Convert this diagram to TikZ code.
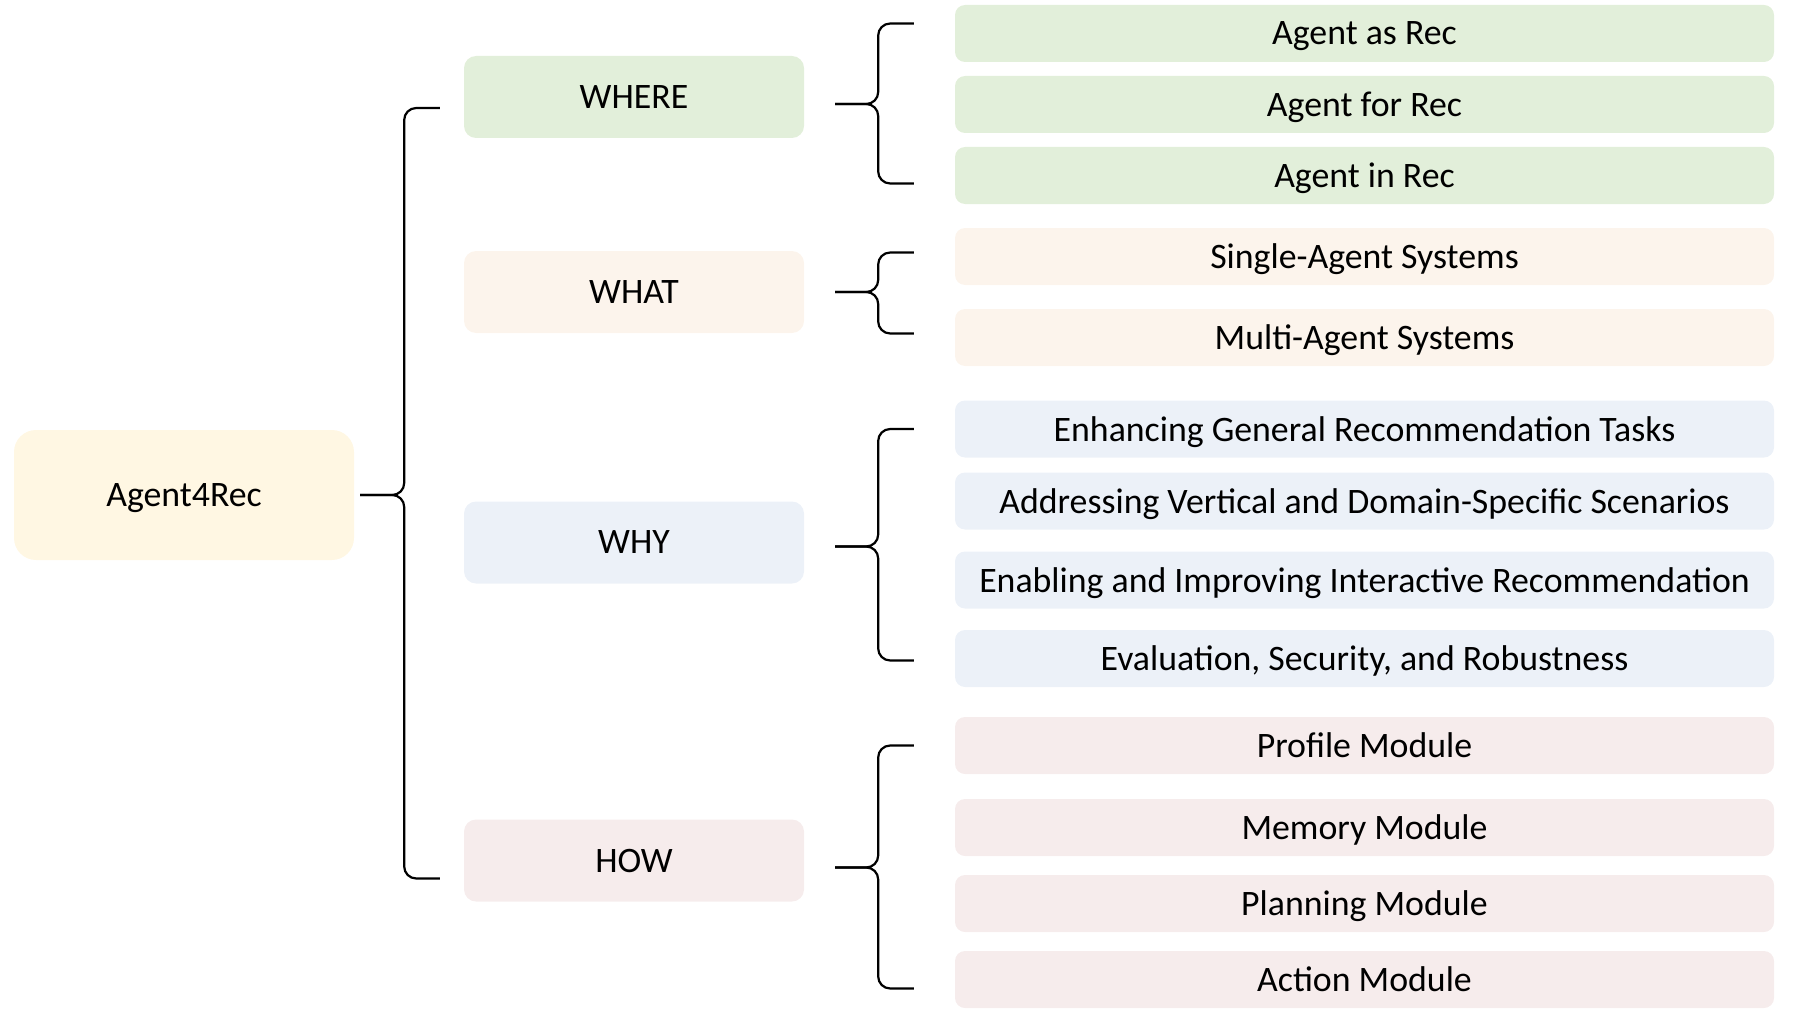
\documentclass[tikz,border=0pt]{standalone}
\usepackage{fontspec}
\setmainfont{Carlito}
\definecolor{recfill}{HTML}{FFF7E3}
\definecolor{wherefill}{HTML}{E2EFDA}
\definecolor{whatfill}{HTML}{FCF4EC}
\definecolor{whyfill}{HTML}{ECF1F8}
\definecolor{howfill}{HTML}{F6ECEC}
\begin{document}
\begin{tikzpicture}[x=1pt,y=-1pt,
    box/.style={rounded corners=10pt,inner sep=0pt,text depth=0pt,font=\fontsize{35.8}{42}\selectfont},
    rootbox/.style={box,rounded corners=22pt,minimum width=340pt,minimum height=130pt},
    midbox/.style={box,rounded corners=12pt,minimum width=340pt,minimum height=82pt},
    leafbox/.style={box,minimum width=819pt,minimum height=57pt},
    brace/.style={line width=2.2pt,rounded corners=12pt}]
      \useasboundingbox (0,0) rectangle (1802,1022);
      \node[rootbox,fill=recfill] (rec) at (184,495) {Agent4Rec};
      \node[midbox,fill=wherefill] (where) at (634,97) {WHERE};
      \node[midbox,fill=whatfill] (what) at (634,292) {WHAT};
      \node[midbox,fill=whyfill] (why) at (634,542.5) {WHY};
      \node[midbox,fill=howfill] (how) at (634,860.5) {HOW};
      \node[leafbox,fill=wherefill] (asrec) at (1364.5,33.5) {Agent as Rec};
      \node[leafbox,fill=wherefill] (forrec) at (1364.5,104.5) {Agent for Rec};
      \node[leafbox,fill=wherefill] (inrec) at (1364.5,175.5) {Agent in Rec};
      \node[leafbox,fill=whatfill] (single) at (1364.5,256.5) {Single-Agent Systems};
      \node[leafbox,fill=whatfill] (multi) at (1364.5,337.5) {Multi-Agent Systems};
      \node[leafbox,fill=whyfill] (general) at (1364.5,429) {Enhancing General Recommendation Tasks};
      \node[leafbox,fill=whyfill] (vertical) at (1364.5,501) {Addressing Vertical and Domain-Specific Scenarios};
      \node[leafbox,fill=whyfill] (interactive) at (1364.5,580) {Enabling and Improving Interactive Recommendation};
      \node[leafbox,fill=whyfill] (evaluation) at (1364.5,658.5) {Evaluation, Security, and Robustness};
      \node[leafbox,fill=howfill] (profile) at (1364.5,745.5) {Profile Module};
      \node[leafbox,fill=howfill] (memory) at (1364.5,827.5) {Memory Module};
      \node[leafbox,fill=howfill] (planning) at (1364.5,903.5) {Planning Module};
      \node[leafbox,fill=howfill] (action) at (1364.5,979.5) {Action Module};
      \begin{scope}[brace]
        \draw ([xshift=6]rec.east) -- ++(44,0) |- ([xshift=-24,yshift=-11]where.west);
        \draw ([xshift=6]rec.east) -- ++(44,0) |- ([xshift=-24,yshift=-18]how.west);
        \draw ([xshift=31,yshift=-7]where.east) -- ++(43,0) |- ([xshift=-41,yshift=10]asrec.west);
        \draw ([xshift=31,yshift=-7]where.east) -- ++(43,0) |- ([xshift=-41,yshift=-8]inrec.west);
        \draw ([xshift=31]what.east) -- ++(43,0) |- ([xshift=-41,yshift=4]single.west);
        \draw ([xshift=31]what.east) -- ++(43,0) |- ([xshift=-41,yshift=4]multi.west);
        \draw ([xshift=31,yshift=-4]why.east) -- ++(43,0) |- ([xshift=-41]general.west);
        \draw ([xshift=31,yshift=-4]why.east) -- ++(43,0) |- ([xshift=-41,yshift=-2]evaluation.west);
        \draw ([xshift=31,yshift=-7]how.east) -- ++(43,0) |- ([xshift=-41]profile.west);
        \draw ([xshift=31,yshift=-7]how.east) -- ++(43,0) |- ([xshift=-41,yshift=-9]action.west);
      \end{scope}
    \end{tikzpicture}
\end{document}
